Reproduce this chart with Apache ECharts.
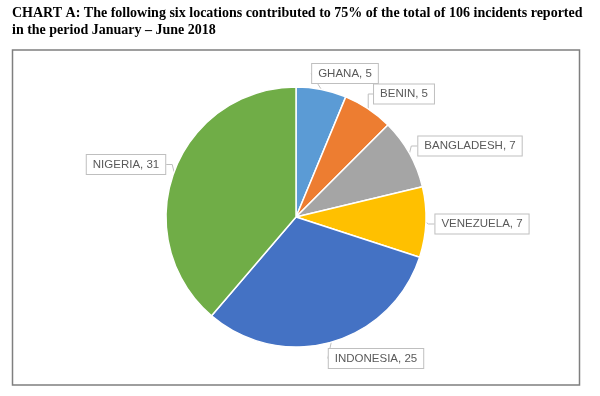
<!DOCTYPE html>
<html><head><meta charset="utf-8">
<script src="https://cdn.jsdelivr.net/npm/echarts@6/dist/echarts.min.js"></script>
<style>html,body{margin:0;padding:0;background:#fff}#c{width:600px;height:396px}</style>
</head><body><div id="c"></div>
<script>
const categories = ['GHANA', 'BENIN', 'BANGLADESH', 'VENEZUELA', 'INDONESIA', 'NIGERIA'];
const incidents = [5, 5, 7, 7, 25, 31];
const colors = ['#5B9BD5', '#ED7D31', '#A5A5A5', '#FFC000', '#4472C4', '#70AD47'];
const titleLines = ['CHART A: The following six locations contributed to 75% of the total of 106 incidents reported', 'in the period January \u2013 June 2018'];
// label box centres (layout only)
const labelCentres = [[345, 73.5], [404, 94], [470, 146], [482, 224], [376, 358.5], [126, 164.5]];

const chart = echarts.init(document.getElementById('c'), null, {renderer: 'canvas'});
chart.setOption({
  animation: false,
  title: {
    text: titleLines.join('\n'), left: 7, top: 0,
    textStyle: {fontFamily: 'Liberation Serif', fontWeight: 'bold', fontSize: 14, color: '#000', lineHeight: 17}
  },
  graphic: [{
    type: 'rect', shape: {x: 12.5, y: 50, width: 567, height: 335},
    style: {fill: 'none', stroke: '#7f7f7f', lineWidth: 1.5}, silent: true
  }],
  series: [{
    type: 'pie',
    center: [296, 217], radius: 130,
    startAngle: 90, clockwise: true,
    itemStyle: {borderColor: '#fff', borderWidth: 1.5},
    data: categories.map((n, i) => ({name: n, value: incidents[i], itemStyle: {color: colors[i]}})),
    label: {
      show: true, position: 'outside',
      formatter: '{b}, {c}',
      fontFamily: 'Liberation Sans', fontSize: 11.5, color: '#595959',
      backgroundColor: '#fff', borderColor: '#bfbfbf', borderWidth: 1, padding: [4, 6, 3, 6]
    },
    labelLine: {show: true, length: 6, length2: 6, lineStyle: {color: '#bfbfbf', width: 1}},
    labelLayout: function (p) {
      const c = labelCentres[p.dataIndex];
      return {x: c[0], y: c[1], align: 'center', verticalAlign: 'middle'};
    }
  }]
});
</script></body></html>
